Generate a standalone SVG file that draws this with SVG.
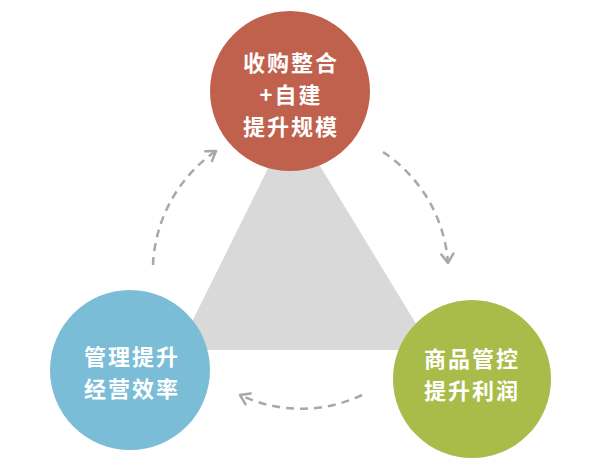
<svg xmlns="http://www.w3.org/2000/svg" width="596" height="466" viewBox="0 0 596 466">
<style>
.lbl{font-family:"Noto Sans CJK SC","Noto Sans",sans-serif;font-weight:bold;font-size:22px;letter-spacing:2px;fill:#ffffff;text-anchor:middle}
.arc{fill:none;stroke:#a8a8a8;stroke-width:2.5;stroke-dasharray:8 6;stroke-linecap:butt}
</style>
<defs>
<marker id="chev" markerUnits="userSpaceOnUse" markerWidth="20" markerHeight="20" refX="0" refY="0" viewBox="-12 -10 14 20" orient="auto" overflow="visible">
<path d="M-9,-6 L0,0 L-9,6" fill="none" stroke="#a8a8a8" stroke-width="2.5" stroke-linecap="round" stroke-linejoin="round"/>
</marker>
</defs>
<rect width="596" height="466" fill="#ffffff"/>
<polygon id="triangle" points="292,120 178,350 432,350" fill="#d9d9d9"/>
<g id="connectors">
<path class="arc" d="M153,265 A146,146 0 0 1 216,151" marker-end="url(#chev)"/>
<path class="arc" d="M383,152 A146,146 0 0 1 448,263" marker-end="url(#chev)"/>
<path class="arc" d="M362,395 A142,142 0 0 1 240,395" marker-end="url(#chev)"/>
</g>
<g id="node-top">
<circle cx="290" cy="91" r="80" fill="#c0614e"/>
<text class="lbl" x="291" y="70.5">收购整合</text>
<text class="lbl" x="291" y="102.5">+自建</text>
<text class="lbl" x="291" y="134.5">提升规模</text>
</g>
<g id="node-left">
<circle cx="130" cy="370" r="80" fill="#7bbcd6"/>
<text class="lbl" x="132" y="364.5">管理提升</text>
<text class="lbl" x="132" y="396.5">经营效率</text>
</g>
<g id="node-right">
<circle cx="472" cy="379" r="79" fill="#a9bb48"/>
<text class="lbl" x="472" y="366.5">商品管控</text>
<text class="lbl" x="472" y="398.5">提升利润</text>
</g>
</svg>
